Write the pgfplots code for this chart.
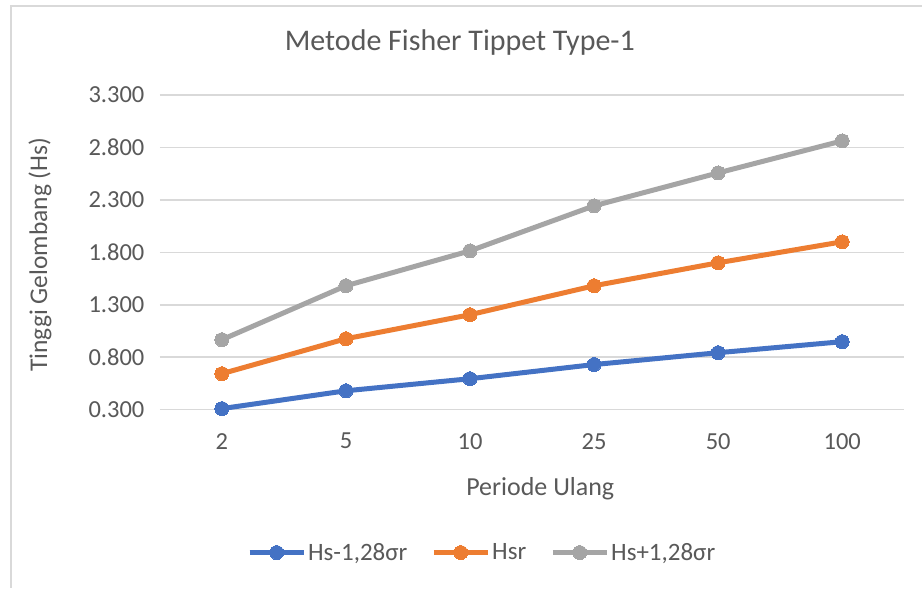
\documentclass[border=0pt]{standalone}
\usepackage{fontspec}
\setmainfont{Carlito}
\usepackage{pgfplots}
\pgfplotsset{compat=1.18}
\definecolor{cblue}{HTML}{4472C4}
\definecolor{corange}{HTML}{ED7D31}
\definecolor{cgray}{HTML}{A5A5A5}
\definecolor{txt}{HTML}{595959}
\definecolor{gridc}{HTML}{D9D9D9}
\begin{document}
\begin{tikzpicture}[x=1pt,y=1pt]
\path[fill=white] (0,0) rectangle (923,588);
\draw[gridc, line width=1.5pt] (11,0) -- (11,582) -- (923,582);
\begin{axis}[
  at={(160pt,178pt)}, anchor=south west,
  width=745pt, height=315pt, scale only axis,
  xmin=-0.5, xmax=5.5, ymin=0.3, ymax=3.3,
  xtick={0,...,5}, xticklabels={2,5,10,25,50,100},
  ytick={0.3,0.8,1.3,1.8,2.3,2.8,3.3},
  yticklabels={0.300,0.800,1.300,1.800,2.300,2.800,3.300},
  ymajorgrids=true, xmajorgrids=false, major grid style={color=gridc, line width=1.5pt},
  axis line style={draw=none}, major tick length=0pt,
  tick label style={font=\fontsize{24.5}{29}\selectfont, text=txt},
  xticklabel style={yshift=-20pt},
  yticklabel style={xshift=-12pt},
  title={Metode Fisher Tippet Type-1},
  title style={at={(axis description cs:0.403,1.147)}, anchor=center, font=\fontsize{30}{36}\selectfont, text=txt},
  xlabel={Periode Ulang},
  xlabel style={at={(axis description cs:0.511,-0.251)}, anchor=center, font=\fontsize{26}{31}\selectfont, text=txt},
  ylabel={Tinggi Gelombang (Hs)},
  ylabel style={at={(axis description cs:-0.161,0.492)}, anchor=center, font=\fontsize{25.5}{30}\selectfont, text=txt},
  legend columns=3,
  legend style={at={(axis description cs:0.433,-0.454)}, anchor=center, draw=none, fill=none,
    font=\fontsize{25}{30}\selectfont, text=txt, /tikz/every even column/.append style={column sep=22pt}},
  legend image code/.code={\draw[mark repeat=2,mark phase=2] plot coordinates {(0pt,0pt) (27pt,0pt) (54pt,0pt)};},
  every axis plot/.append style={line width=5pt, mark=*, mark size=7pt, mark options={line width=0pt}},
]
\addplot[color=cblue] coordinates {(0,0.31) (1,0.48) (2,0.595) (3,0.73) (4,0.843) (5,0.948)};
\addlegendentry{Hs-1,28σr}
\addplot[color=corange] coordinates {(0,0.643) (1,0.976) (2,1.205) (3,1.481) (4,1.70) (5,1.90)};
\addlegendentry{Hsr}
\addplot[color=cgray] coordinates {(0,0.967) (1,1.481) (2,1.814) (3,2.243) (4,2.557) (5,2.862)};
\addlegendentry{Hs+1,28σr}
\end{axis}
\end{tikzpicture}
\end{document}
